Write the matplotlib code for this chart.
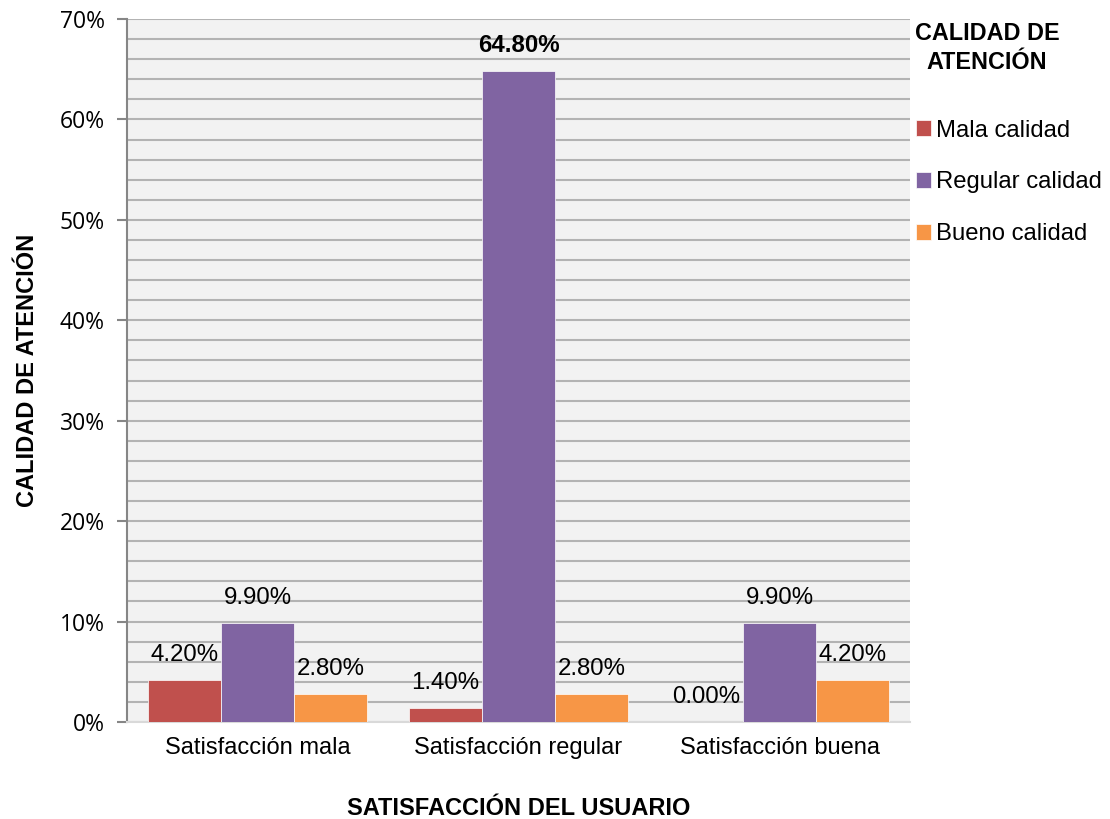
import matplotlib
matplotlib.use("Agg")
import matplotlib.pyplot as plt
import numpy as np
from matplotlib.ticker import MultipleLocator, FuncFormatter

categories = ["Satisfacción mala", "Satisfacción regular", "Satisfacción buena"]
series_names = ["Mala calidad", "Regular calidad", "Bueno calidad"]
mala = [4.20, 1.40, 0.00]
regular = [9.90, 64.80, 9.90]
bueno = [2.80, 2.80, 4.20]
colors = ["#c0504d", "#8064a2", "#f79646"]

plt.rcParams['font.family'] = ['Liberation Sans', 'DejaVu Sans']

fig = plt.figure(figsize=(11.10, 8.19), dpi=100)
ax = fig.add_axes([127/1110, 1-722/819, (910-127)/1110, (722-19)/819])
ax.set_facecolor("#f2f2f2")

x = np.arange(len(categories))
w = 0.28
series = [mala, regular, bueno]
for i, (vals, name, c) in enumerate(zip(series, series_names, colors)):
    pos = x + (i - 1) * w
    ax.bar(pos, vals, width=w, color=c, label=name, zorder=3,
           edgecolor="white", linewidth=0.5)
    for xp, v in zip(pos, vals):
        bold = v > 50
        ax.annotate(f"{v:.2f}%", (xp, v), xytext=(0, 10), textcoords="offset points",
                    ha="center", va="bottom", fontsize=17.3,
                    fontweight="bold" if bold else "normal", zorder=4)

ax.set_xlim(-0.5, 2.5)
ax.set_ylim(0, 70)
ax.yaxis.set_major_locator(MultipleLocator(10))
ax.yaxis.set_minor_locator(MultipleLocator(2))
ax.yaxis.set_major_formatter(FuncFormatter(lambda v, p: f"{v:.0f}%"))
ax.grid(axis="y", which="both", color="#b3b3b3", linewidth=1.5, zorder=0)
ax.set_axisbelow(True)
for s in ["top", "right"]:
    ax.spines[s].set_visible(False)
ax.spines["left"].set_color("#868686")
ax.spines["left"].set_linewidth(1.5)
ax.spines["bottom"].set_color("#d9d9d9")
ax.spines["bottom"].set_linewidth(1.5)
ax.tick_params(axis="y", which="major", length=7, width=1.5, color="#868686",
               labelsize=16.5, pad=9)
ax.tick_params(axis="y", which="minor", length=0)
for lab in ax.get_yticklabels():
    lab.set_fontfamily(["Open Sans", "DejaVu Sans"])
ax.set_xticks(x)
ax.set_xticklabels(categories, fontsize=17)
ax.tick_params(axis="x", length=0, pad=11)

ax.set_xlabel("SATISFACCIÓN DEL USUARIO", fontsize=17, fontweight="bold", labelpad=27)
ax.set_ylabel("CALIDAD DE ATENCIÓN", fontsize=17, fontweight="bold", labelpad=15)

fig.text(987/1110, 1-48/819, "CALIDAD DE\nATENCIÓN", ha="center", va="center",
         fontsize=16.8, fontweight="bold", linespacing=1.35)
fig.legend(loc="upper left", bbox_to_anchor=(906/1110, 1-110/819), frameon=False,
           fontsize=17.2, handlelength=0.65, handleheight=0.65, handletextpad=0.2,
           labelspacing=1.25, borderaxespad=0)

fig.savefig("out.png", dpi=100)
